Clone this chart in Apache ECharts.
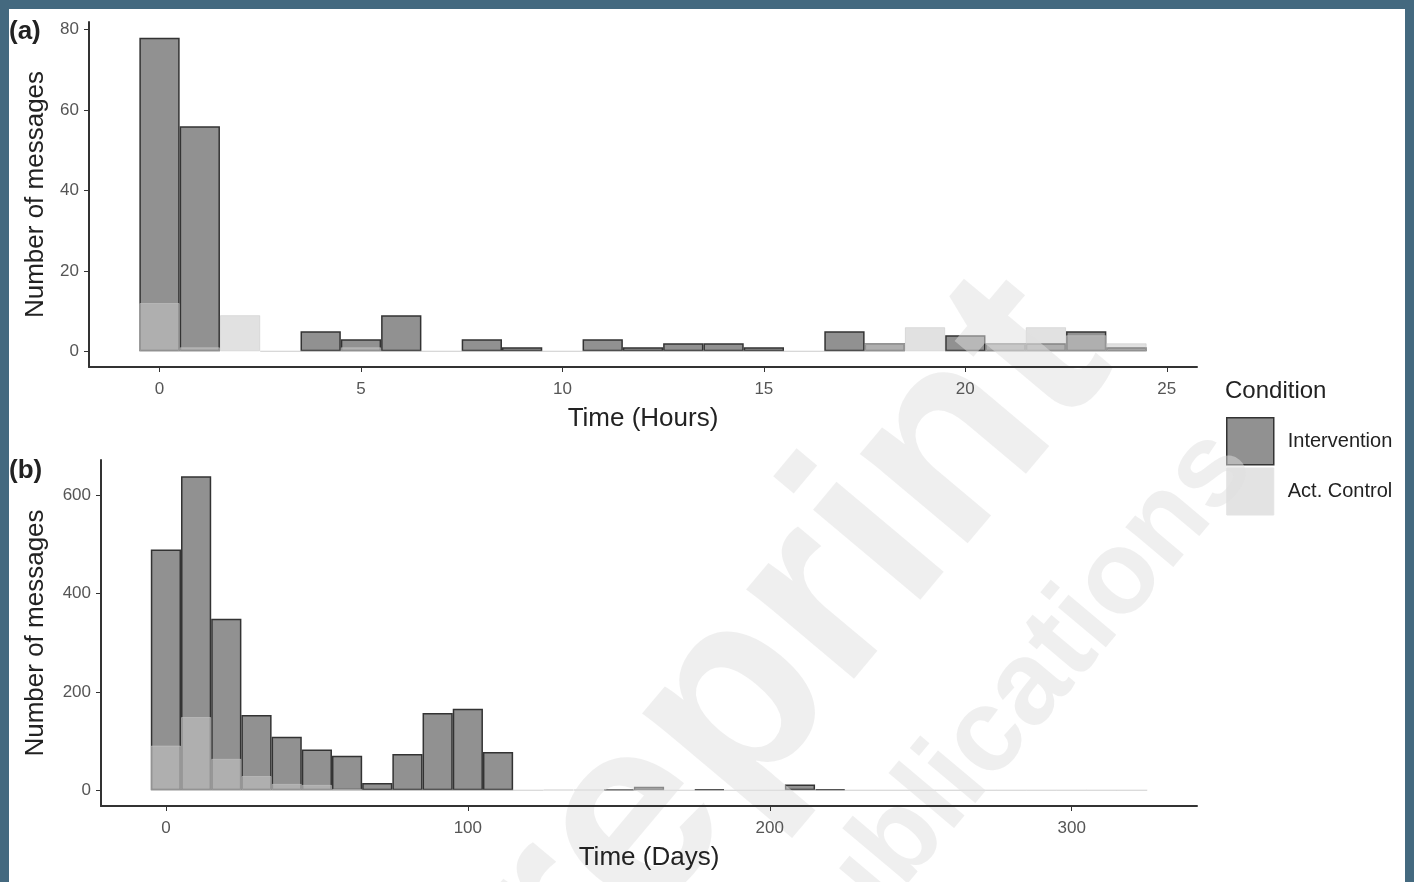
<!DOCTYPE html>
<html>
<head>
<meta charset="utf-8">
<title>Number of messages over time</title>
<script src="https://cdn.jsdelivr.net/npm/echarts@6/dist/echarts.min.js"></script>
<style>
html, body { margin: 0; padding: 0; background: #fff; }
#chart { position: absolute; left: 0; top: 0; width: 1414px; height: 882px; }
#frame {
  position: absolute; left: 0; top: 0; width: 1414px; height: 882px;
  box-sizing: border-box; border: 9px solid #44697f; border-bottom: none;
  pointer-events: none;
}
</style>
</head>
<body>
<div id="chart"></div>
<div id="frame"></div>
<script>
// (a) hourly bins, centred on the hour
const hourBins = [0, 1, 2, 3, 4, 5, 6, 7, 8, 9, 10, 11, 12, 13, 14, 15, 16, 17, 18, 19, 20, 21, 22, 23, 24]
const hourIntervention = [78, 56, null, null, 5, 3, 9, null, 3, 1, null, 3, 1, 2, 2, 1, null, 5, 2, null, 4, 2, 2, 5, 1]
const hourControl = [12, 1, 9, 0, 0, 1, 0, 0, 0, 0, 0, 0, 0, 0, 0, 0, 0, 0, 2, 6, 0, 2, 6, 4, 2]
const hourTicksX = [0, 5, 10, 15, 20, 25]
const hourTicksY = [0, 20, 40, 60, 80]

// (b) 10-day bins, centred on the bin value
const dayBins = [0, 10, 20, 30, 40, 50, 60, 70, 80, 90, 100, 110, 120, 130, 140, 150, 160,
  170, 180, 190, 200, 210, 220, 230, 240, 250, 260, 270, 280, 290, 300, 310, 320]
const dayIntervention = [490, 639, 349, 153, 109, 83, 70, 15, 74, 157, 166, 78, null, null, null, 1, 7,
  null, 2, null, null, 12, 2, null, null, null, null, null, null, null, null, null, null]
const dayControl = [91, 149, 64, 29, 13, 11, 3, 0, 0, 0, 0, 0, 0, 1, 1, 0, 0,
  0, 0, 0, 0, 0, 0, 0, 0, 0, 0, 0, 0, 0, 0, 0, 0]
const dayTicksX = [0, 100, 200, 300]
const dayTicksY = [0, 200, 400, 600]

const conditions = ['Intervention', 'Act. Control']

const font = '"Liberation Sans", Arial, sans-serif'
const interventionStyle = { color: '#919191', borderColor: '#333', borderWidth: 1.5 }
const controlStyle = { color: 'rgba(200,200,200,0.55)', borderColor: 'rgba(200,200,200,0.55)', borderWidth: 1 }
const watermarkFill = 'rgba(224,224,224,0.5)'

function pairs(bins, values) {
  return bins.map((b, i) => [b, values[i]])
}

function xAxis(gridIndex, min, max, ticks, name) {
  return {
    gridIndex: gridIndex,
    type: 'value',
    z: 200,
    min: min,
    max: max,
    name: name,
    nameLocation: 'middle',
    nameGap: 39,
    nameTextStyle: { fontSize: 26, color: '#222' },
    axisLine: { onZero: false, lineStyle: { color: '#333', width: 2 } },
    axisTick: { customValues: ticks, length: 5, lineStyle: { color: '#333' } },
    axisLabel: { customValues: ticks, margin: 14, fontSize: 17, color: '#555' },
    splitLine: { show: false }
  }
}

function yAxis(gridIndex, min, max, ticks, nameGap) {
  return {
    gridIndex: gridIndex,
    type: 'value',
    z: 200,
    min: min,
    max: max,
    name: 'Number of messages',
    nameLocation: 'middle',
    nameGap: nameGap,
    nameTextStyle: { fontSize: 26, color: '#222' },
    axisLine: { show: true, onZero: false, lineStyle: { color: '#333', width: 2 } },
    axisTick: { show: true, customValues: ticks, length: 5, lineStyle: { color: '#333' } },
    axisLabel: { customValues: ticks, margin: 10, fontSize: 17, color: '#555' },
    splitLine: { show: false }
  }
}

function barSeries(name, index, bins, values, width, style, z) {
  return {
    type: 'bar',
    name: name,
    xAxisIndex: index,
    yAxisIndex: index,
    data: pairs(bins, values),
    barWidth: width,
    barGap: '-100%',
    itemStyle: style,
    z: z
  }
}

const chart = echarts.init(document.getElementById('chart'))
chart.setOption({
  animation: false,
  backgroundColor: '#fff',
  textStyle: { fontFamily: font },
  title: [
    { text: '(a)', left: 9, top: 19, padding: 0, textStyle: { fontSize: 26, fontWeight: 'bold', color: '#222', fontFamily: font } },
    { text: '(b)', left: 9, top: 458, padding: 0, textStyle: { fontSize: 26, fontWeight: 'bold', color: '#222', fontFamily: font } },
    { text: 'Condition', left: 1225, top: 379, padding: 0, textStyle: { fontSize: 24, fontWeight: 'normal', color: '#222', fontFamily: font } }
  ],
  legend: {
    orient: 'vertical',
    left: 1226,
    top: 417,
    padding: 0,
    itemWidth: 47,
    itemHeight: 47,
    itemGap: 2,
    icon: 'rect',
    selectedMode: false,
    textStyle: { fontSize: 20, color: '#222', padding: [0, 0, 0, 9] },
    data: [
      { name: conditions[0], itemStyle: interventionStyle },
      { name: conditions[1], itemStyle: { color: '#e3e3e3', borderColor: '#e3e3e3', borderWidth: 1 } }
    ]
  },
  grid: [
    { left: 89, top: 22, right: 217, bottom: 515 },
    { left: 101, top: 460, right: 217, bottom: 76 }
  ],
  xAxis: [
    xAxis(0, -1.75, 25.75, hourTicksX, 'Time (Hours)'),
    xAxis(1, -21.5, 341.5, dayTicksX, 'Time (Days)')
  ],
  yAxis: [
    yAxis(0, -3.9, 81.9, hourTicksY, 40),
    yAxis(1, -32, 672, dayTicksY, 52)
  ],
  graphic: [
    {
      type: 'text', x: 734, y: 708, rotation: 50 * Math.PI / 180, z: 100, silent: true,
      style: { text: 'Preprint', font: 'bold 265px ' + font, fill: watermarkFill, align: 'center', verticalAlign: 'middle' }
    },
    {
      type: 'text', x: 905, y: 836, rotation: 50 * Math.PI / 180, z: 100, silent: true,
      style: { text: 'JMIR Publications', font: 'bold 118px ' + font, fill: watermarkFill, align: 'center', verticalAlign: 'middle' }
    }
  ],
  series: [
    barSeries(conditions[0], 0, hourBins, hourIntervention, 40.3, interventionStyle, 2),
    barSeries(conditions[1], 0, hourBins, hourControl, 40.3, controlStyle, 3),
    barSeries(conditions[0], 1, dayBins, dayIntervention, 30.2, interventionStyle, 2),
    barSeries(conditions[1], 1, dayBins, dayControl, 30.2, controlStyle, 3)
  ]
})
</script>
</body>
</html>
